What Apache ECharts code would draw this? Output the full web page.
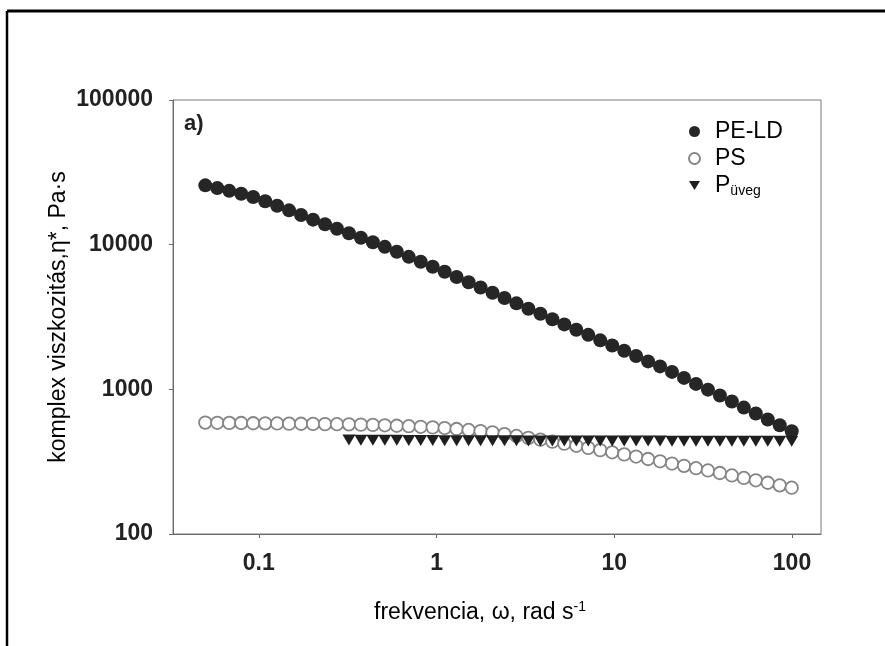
<!DOCTYPE html>
<html>
<head>
<meta charset="utf-8">
<script src="https://cdn.jsdelivr.net/npm/echarts@6/dist/echarts.min.js"></script>
<style>
  html, body { margin: 0; padding: 0; background: #fff; }
  #chart { width: 885px; height: 646px; }
</style>
</head>
<body>
<div id="chart"></div>
<script>
// frekvencia (rad/s), 50 pont logaritmikus lépésben
const freq = [
    0.05, 0.0584, 0.0682, 0.0796, 0.0930, 0.1086, 0.1268, 0.1480, 0.1729, 0.2019,
    0.2357, 0.2752, 0.3214, 0.3753, 0.4382, 0.5117, 0.5975, 0.6977, 0.8147, 0.9513,
    1.111, 1.297, 1.515, 1.769, 2.065, 2.412, 2.816, 3.288, 3.840, 4.484,
    5.236, 6.114, 7.139, 8.337, 9.735, 11.37, 13.27, 15.50, 18.10, 21.13,
    24.68, 28.82, 33.65, 39.29, 45.88, 53.58, 62.56, 73.06, 85.31, 99.62
];

const peld = [
    25700, 24600, 23550, 22490, 21380, 19950, 18580, 17260, 16030, 14890,
    13840, 12880, 11990, 11170, 10400, 9660, 8930, 8240, 7620, 7030,
    6500, 5980, 5500, 5060, 4650, 4280, 3930, 3610, 3330, 3050,
    2810, 2580, 2380, 2180, 2010, 1850, 1700, 1560, 1440, 1320,
    1200, 1090, 995, 906, 824, 748, 681, 619, 564, 513
];

const ps = [
    589, 587, 586, 585, 583, 582, 581, 579, 578, 577,
    575, 574, 573, 570, 568, 564, 560, 556, 551, 546,
    540, 532, 524, 514, 504, 490, 476, 462, 449, 435,
    421, 407, 394, 380, 367, 355, 343, 330, 318, 307,
    296, 285, 275, 264, 254, 244, 235, 226, 217, 209
];

// az üveg mérése csak 0.32 rad/s-tól indul (freq[12]-től)
const pglassStart = 12;
const pglass = [
    446, 445, 445, 444, 444, 443, 443, 443, 442, 442,
    442, 441, 441, 441, 441, 440, 440, 440, 440, 440,
    440, 439, 439, 439, 439, 439, 439, 438, 438, 438,
    438, 438, 438, 438, 437, 437, 437, 437
];

const xTicks = [0.1, 1, 10, 100];
const yTicks = [100, 1000, 10000, 100000];

const FONT = "'Liberation Sans', Arial, sans-serif";
const axisColor = '#6a6a6a';

function pairs(xs, ys) {
    return ys.map((y, i) => [xs[i], y]);
}

const chart = echarts.init(document.getElementById('chart'), null, { renderer: 'canvas' });

const option = {
    backgroundColor: '#fff',
    animation: false,
    grid: {
        left: 173, top: 100, right: 64, bottom: 112,
        outerBoundsMode: 'none',
        show: true, borderColor: '#7a7a7a', borderWidth: 1
    },
    xAxis: {
        type: 'log',
        min: 0.0329, max: 145.6,
        name: '{t|frekvencia, ω, rad s}{s|-1}',
        nameLocation: 'middle',
        nameGap: 66,
        nameMoveOverlap: false,
        nameTextStyle: {
            padding: [0, 34, 0, 0],
            rich: {
                t: { fontFamily: FONT, fontSize: 23, color: '#000', lineHeight: 26 },
                s: { fontFamily: FONT, fontSize: 14, color: '#000', lineHeight: 14, verticalAlign: 'top' }
            }
        },
        axisLine: { lineStyle: { color: axisColor, width: 1 } },
        axisTick: { customValues: xTicks, length: 4, inside: false, lineStyle: { color: axisColor } },
        splitLine: { show: false },
        axisLabel: {
            customValues: xTicks,
            margin: 18,
            fontFamily: FONT, fontSize: 23, fontWeight: 'bold', color: '#222',
            formatter: v => String(+v.toPrecision(6))
        }
    },
    yAxis: {
        type: 'log',
        min: 100, max: 100000,
        name: 'komplex viszkozitás,η*, Pa·s',
        nameLocation: 'middle',
        nameGap: 103,
        nameMoveOverlap: false,
        nameTextStyle: { fontFamily: FONT, fontSize: 23, color: '#000' },
        axisLine: { lineStyle: { color: axisColor, width: 1 } },
        axisTick: { customValues: yTicks, length: 4, lineStyle: { color: axisColor } },
        splitLine: { show: false },
        axisLabel: {
            customValues: yTicks,
            margin: 20,
            fontFamily: FONT, fontSize: 23, fontWeight: 'bold', color: '#222',
            formatter: v => String(Math.round(v))
        }
    },
    legend: {
        orient: 'vertical',
        left: 683, top: 115,
        itemWidth: 11, itemHeight: 11,
        itemGap: 4,
        selectedMode: false,
        textStyle: {
            fontFamily: FONT, fontSize: 23, color: '#000',
            rich: {
                n: { fontFamily: FONT, fontSize: 23, color: '#000', lineHeight: 26, padding: [0, 0, 0, 10] },
                s: { fontFamily: FONT, fontSize: 14, color: '#000', lineHeight: 12, verticalAlign: 'bottom' }
            }
        },
        formatter: name => name === 'Püveg' ? '{n|P}{s|üveg}' : '{n|' + name + '}',
        data: ['PE-LD', 'PS', 'Püveg']
    },
    graphic: [
        { type: 'text', left: 184, top: 113,
          style: { text: 'a)', font: 'bold 22px ' + FONT, fill: '#222' } },
        { type: 'line', shape: { x1: 7, y1: 11, x2: 885, y2: 11 },
          style: { stroke: '#000', lineWidth: 3 } },
        { type: 'line', shape: { x1: 7, y1: 11, x2: 7, y2: 646 },
          style: { stroke: '#000', lineWidth: 2.5 } }
    ],
    series: [
        {
            name: 'PE-LD', type: 'scatter',
            symbol: 'circle', symbolSize: 14,
            itemStyle: { color: '#262626', opacity: 1 },
            data: pairs(freq, peld)
        },
        {
            name: 'PS', type: 'scatter',
            symbol: 'circle', symbolSize: 12.5,
            itemStyle: { color: '#fff', borderColor: '#858585', borderWidth: 1.8, opacity: 1 },
            data: pairs(freq, ps)
        },
        {
            name: 'Püveg', type: 'scatter',
            symbol: 'path://M0,0L12,0L6,10Z', symbolSize: [13, 11],
            itemStyle: { color: '#1e1e1e', opacity: 1 },
            data: pairs(freq.slice(pglassStart), pglass)
        }
    ]
};

chart.setOption(option);
</script>
</body>
</html>
